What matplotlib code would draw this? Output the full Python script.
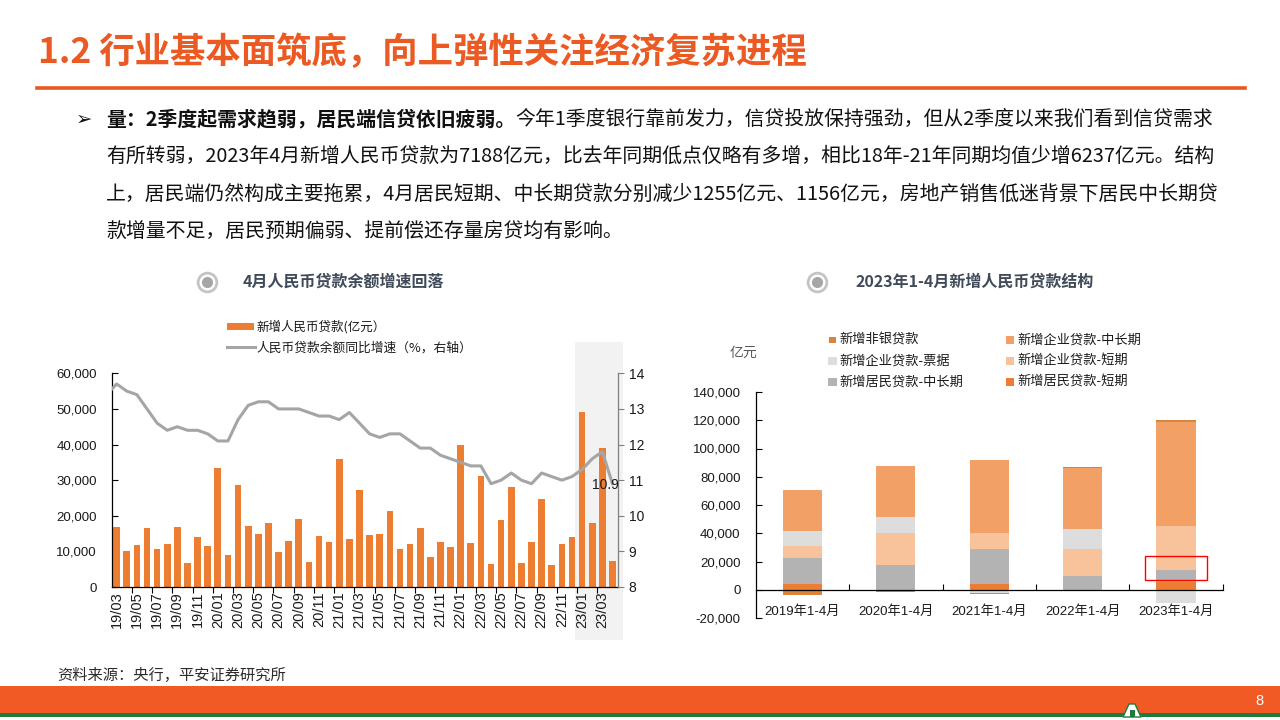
import matplotlib
matplotlib.use('Agg')
import matplotlib.pyplot as plt
from matplotlib.patches import Rectangle, Polygon
from matplotlib.lines import Line2D
import numpy as np

# ---------------- data ----------------
month_labels = ['19/03', '19/04', '19/05', '19/06', '19/07', '19/08', '19/09', '19/10', '19/11', '19/12',
                '20/01', '20/02', '20/03', '20/04', '20/05', '20/06', '20/07', '20/08', '20/09', '20/10', '20/11', '20/12',
                '21/01', '21/02', '21/03', '21/04', '21/05', '21/06', '21/07', '21/08', '21/09', '21/10', '21/11', '21/12',
                '22/01', '22/02', '22/03', '22/04', '22/05', '22/06', '22/07', '22/08', '22/09', '22/10', '22/11', '22/12',
                '23/01', '23/02', '23/03', '23/04']
new_loans = [16900, 10200, 11800, 16600, 10600, 12100, 16900, 6600, 14000, 11400,
             33400, 9100, 28700, 17000, 14800, 18100, 9900, 12800, 19000, 6900, 14300, 12600,
             35800, 13600, 27300, 14700, 15000, 21200, 10800, 12200, 16600, 8300, 12700, 11300,
             39800, 12300, 31300, 6500, 18900, 28100, 6800, 12500, 24700, 6200, 12100, 14000,
             49000, 18100, 38900, 7200]
# growth line starts one month earlier (19/02), clipped at the axis edge
growth = [13.4,
          13.7, 13.5, 13.4, 13.0, 12.6, 12.4, 12.5, 12.4, 12.4, 12.3,
          12.1, 12.1, 12.7, 13.1, 13.2, 13.2, 13.0, 13.0, 13.0, 12.9, 12.8, 12.8,
          12.7, 12.9, 12.6, 12.3, 12.2, 12.3, 12.3, 12.1, 11.9, 11.9, 11.7, 11.6,
          11.5, 11.4, 11.4, 10.9, 11.0, 11.2, 11.0, 10.9, 11.2, 11.1, 11.0, 11.1,
          11.3, 11.6, 11.8, 10.9]
last_growth_label = '10.9'

periods = ['2019年1-4月', '2020年1-4月', '2021年1-4月', '2022年1-4月', '2023年1-4月']
hh_short = [3800, -1800, 4200, -500, 5200]        # 新增居民贷款-短期
hh_long = [18600, 17200, 24900, 9400, 8500]       # 新增居民贷款-中长期
corp_short = [8900, 23300, 11100, 19800, 31300]   # 新增企业贷款-短期
corp_bill = [10100, 10800, -2500, 14100, -9400]   # 新增企业贷款-票据
corp_long = [29200, 36500, 51800, 42600, 74100]   # 新增企业贷款-中长期
nonbank = [-4000, 0, -800, 1200, 1200]            # 新增非银贷款

# ---------------- figure ----------------
W, H = 1280, 720
fig = plt.figure(figsize=(12.8, 7.2), dpi=100)
fig.patch.set_facecolor('white')

CJK = ['Noto Sans CJK SC', 'DejaVu Sans']
LAT = ['Liberation Sans', 'Noto Sans CJK SC', 'DejaVu Sans']


def fx(x):
    return x / W


def fy(y):
    return 1 - y / H


ORANGE_T = '#EB5A22'

# Title + underline
fig.text(fx(38), fy(52), '1.2 行业基本面筑底，向上弹性关注经济复苏进程', fontsize=25.5,
         fontweight='bold', color=ORANGE_T, family=CJK, va='center', ha='left')
fig.add_artist(Line2D([fx(37), fx(1245)], [fy(87.5), fy(87.5)], color='#E9581F', lw=2.6))

# Body text
fig.text(fx(76), fy(119), '➢', family=['DejaVu Sans'], fontsize=14, va='center', ha='left', color='#111111')
renderer = fig.canvas.get_renderer()
tb = fig.text(fx(106), fy(119), '量：2季度起需求趋弱，居民端信贷依旧疲弱。', fontsize=14.3,
              fontweight='bold', family=CJK, va='center', ha='left', color='#111111')
bb = tb.get_window_extent(renderer)
fig.text(bb.x1 / W, fy(119), '今年1季度银行靠前发力，信贷投放保持强劲，但从2季度以来我们看到信贷需求',
         fontsize=14.3, family=CJK, va='center', ha='left', color='#111111')
body_lines = ['有所转弱，2023年4月新增人民币贷款为7188亿元，比去年同期低点仅略有多增，相比18年-21年同期均值少增6237亿元。结构',
              '上，居民端仍然构成主要拖累，4月居民短期、中长期贷款分别减少1255亿元、1156亿元，房地产销售低迷背景下居民中长期贷',
              '款增量不足，居民预期偏弱、提前偿还存量房贷均有影响。']
for yy, s in zip([156, 194, 231], body_lines):
    fig.text(fx(106), fy(yy), s, fontsize=14.3, family=CJK, va='center', ha='left', color='#111111')

# section icons and titles
TITLE_C = '#404B5A'
for cx, tx, s in [(207, 243, '4月人民币贷款余额增速回落'), (817, 855, '2023年1-4月新增人民币贷款结构')]:
    fig.add_artist(Line2D([fx(cx)], [fy(281.7)], marker='o', markersize=13.5, mfc='white',
                          mec='#C4C4C4', mew=2.0, ls='none'))
    fig.add_artist(Line2D([fx(cx)], [fy(281.7)], marker='o', markersize=7, mfc='#A6A6A6',
                          mec='#A6A6A6', ls='none'))
    fig.text(fx(tx), fy(282), s, fontsize=11.5, fontweight='bold', color=TITLE_C, family=CJK,
             va='center', ha='left')

# ---------------- left chart ----------------
BAR_C = '#ED7D31'
LINE_C = '#A5A5A5'
# shaded highlight (2023)
fig.patches.append(Rectangle((fx(575), fy(640)), (622.7 - 575) / W, (640 - 341.7) / H,
                             transform=fig.transFigure, facecolor='#F2F2F2', edgecolor='none', zorder=-1))

ax1 = fig.add_axes([fx(112.3), fy(587), (617.5 - 112.3) / W, (587 - 373.3) / H])
ax1.set_facecolor('none')
x = np.arange(len(new_loans))
ax1.bar(x, new_loans, width=0.66, color=BAR_C, zorder=2)
ax1.set_xlim(-0.43, 49.5)
ax1.set_ylim(0, 60000)
yt = list(range(0, 60001, 10000))
ax1.set_yticks(yt)
ax1.set_yticklabels([f'{v:,}' for v in yt], family=LAT, fontsize=9.5, color='#1A1A1A')
ax1.tick_params(axis='y', direction='in', length=4, pad=11, width=0.8)
ax1.set_xticks(x[::2])
ax1.set_xticklabels(month_labels[::2], rotation=90, family=LAT, fontsize=10.5, color='#1A1A1A')
ax1.tick_params(axis='x', which='major', length=0, pad=3)
ax1.set_xticks(np.arange(1.5, 49, 2), minor=True)
ax1.tick_params(axis='x', which='minor', direction='out', length=4, width=0.8)
ax1.spines['top'].set_visible(False)
ax1.spines['right'].set_visible(False)
ax1.spines['left'].set_linewidth(0.9)
ax1.spines['bottom'].set_linewidth(0.9)

ax2 = ax1.twinx()
ax2.set_facecolor('none')
ax2.plot(np.arange(-1, len(growth) - 1), growth, color=LINE_C, lw=2.2, zorder=3)
ax2.set_ylim(8, 14)
ax2.set_xlim(-0.43, 49.5)
ax2.set_yticks(range(8, 15))
ax2.set_yticklabels([str(v) for v in range(8, 15)], family=LAT, fontsize=10, color='#1A1A1A')
ax2.tick_params(axis='y', direction='out', length=4, pad=4, color='#808080', width=0.8)
for sp in ['top', 'left', 'bottom']:
    ax2.spines[sp].set_visible(False)
ax2.spines['right'].set_color('#808080')
ax2.spines['right'].set_linewidth(0.9)
ax2.text(48.35, 10.85, last_growth_label, ha='center', va='center', fontsize=10, family=LAT, color='#1A1A1A', zorder=4)

# left legend
fig.patches.append(Rectangle((fx(226.7), fy(330.2)), (254 - 226.7) / W, 7 / H,
                             transform=fig.transFigure, facecolor=BAR_C, edgecolor='none'))
fig.text(fx(256), fy(326.7), '新增人民币贷款(亿元）', fontsize=9, family=CJK, va='center', ha='left', color='#1A1A1A')
fig.add_artist(Line2D([fx(226.7), fx(255)], [fy(347.5), fy(347.5)], color=LINE_C, lw=2.2))
fig.text(fx(256), fy(348), '人民币贷款余额同比增速（%，右轴）', fontsize=9.2, family=CJK, va='center', ha='left', color='#1A1A1A')

# ---------------- right chart ----------------
series = [
    ('新增居民贷款-短期', hh_short, '#ED7D31'),
    ('新增居民贷款-中长期', hh_long, '#B3B3B3'),
    ('新增企业贷款-短期', corp_short, '#F8C29B'),
    ('新增企业贷款-票据', corp_bill, '#DDDDDD'),
    ('新增企业贷款-中长期', corp_long, '#F3A066'),
    ('新增非银贷款', nonbank, '#DA843C'),
]
ax3 = fig.add_axes([fx(755.8), fy(618), (1222.7 - 755.8) / W, (618 - 392) / H])
ax3.set_facecolor('none')
xc = np.arange(len(periods))
pos_base = np.zeros(len(periods))
neg_base = np.zeros(len(periods))
for name, vals, col in series:
    v = np.array(vals, dtype=float)
    pv = np.where(v > 0, v, 0)
    nv = np.where(v < 0, v, 0)
    ax3.bar(xc, pv, bottom=pos_base, width=0.42, color=col, zorder=2)
    ax3.bar(xc, nv, bottom=neg_base, width=0.42, color=col, zorder=2)
    pos_base += pv
    neg_base += nv
ax3.set_xlim(-0.5, 4.5)
ax3.set_ylim(-20000, 140000)
yt3 = list(range(-20000, 140001, 20000))
ax3.set_yticks(yt3)
ax3.set_yticklabels([f'{v:,}' for v in yt3], family=LAT, fontsize=9.5, color='#1A1A1A')
ax3.tick_params(axis='y', direction='in', length=4, pad=11, width=0.8)
ax3.spines['bottom'].set_position(('data', 0))
ax3.spines['top'].set_visible(False)
ax3.spines['right'].set_visible(False)
ax3.spines['left'].set_linewidth(0.9)
ax3.spines['bottom'].set_linewidth(0.9)
ax3.set_xticks(xc)
ax3.set_xticklabels(periods, family=LAT, fontsize=9.5, color='#1A1A1A')
ax3.tick_params(axis='x', which='major', length=0, pad=11)
ax3.set_xticks(np.arange(0.5, 5, 1), minor=True)
ax3.tick_params(axis='x', which='minor', direction='in', length=4, width=0.8)
# highlight box on 2023 household loans
ax3.add_patch(Rectangle((3.668, 7070), 0.664, 16960, fill=False, edgecolor='#FF0000', lw=1.0, zorder=5))

fig.text(fx(743), fy(353), '亿元', fontsize=10, family=CJK, color='#595959', ha='center', va='center')

# right legend (two columns, three rows)
legend_layout = [('新增非银贷款', 832.6, 340, 6.5), ('新增企业贷款-中长期', 1010, 340, 8.5),
                 ('新增企业贷款-票据', 832.6, 361, 8.5), ('新增企业贷款-短期', 1010, 361, 8.5),
                 ('新增居民贷款-中长期', 832.6, 382, 8.5), ('新增居民贷款-短期', 1010, 382, 8.5)]
colors = {name: col for name, _, col in series}
for name, lx, ly, sz in legend_layout:
    fig.patches.append(Rectangle((fx(lx - sz / 2), fy(ly + sz / 2)), sz / W, sz / H,
                                 transform=fig.transFigure, facecolor=colors[name], edgecolor='none'))
    fig.text(fx(lx + 7), fy(ly), name, fontsize=9.5, family=CJK, va='center', ha='left', color='#1A1A1A')

# ---------------- footer ----------------
fig.text(fx(57), fy(675), '资料来源：央行，平安证券研究所', fontsize=11, family=CJK, color='#2B2B2B', va='center', ha='left')
fig.patches.append(Rectangle((0, fy(713)), 1, (713 - 686) / H, transform=fig.transFigure,
                             facecolor='#F15A24', edgecolor='none'))
fig.patches.append(Rectangle((0, fy(717)), 1, 4 / H, transform=fig.transFigure,
                             facecolor='#1E7B3E', edgecolor='none'))
fig.patches.append(Polygon([(fx(1123), fy(717)), (fx(1129), fy(704)), (fx(1135), fy(704)), (fx(1141), fy(717))],
                           closed=True, transform=fig.transFigure, facecolor='white', edgecolor='#1E7B3E', lw=1))
fig.patches.append(Rectangle((fx(1129.5), fy(717)), 5 / W, 7 / H, transform=fig.transFigure,
                             facecolor='#1E7B3E', edgecolor='none'))
fig.text(fx(1259), fy(701), '8', fontsize=10.5, family=LAT, color='white', ha='center', va='center')

fig.savefig('out.png', dpi=100)
